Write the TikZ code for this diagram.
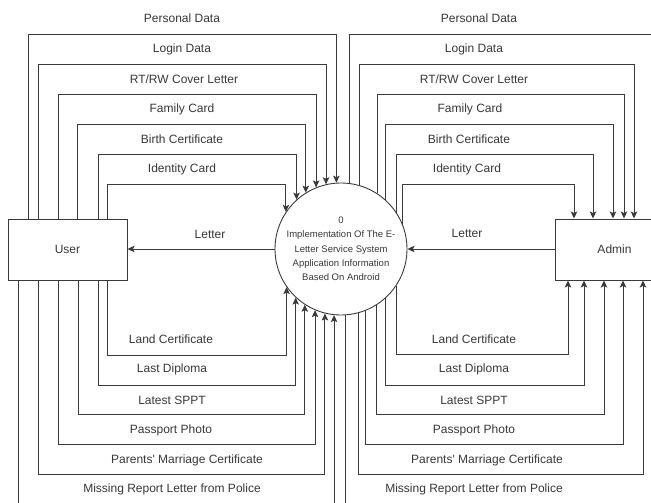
\documentclass[tikz,border=0pt]{standalone}
\usepackage{fontspec}
\setmainfont{Liberation Sans}[Ligatures=TeXOff]
\usetikzlibrary{arrows.meta}
\definecolor{linec}{HTML}{3A3A3A}
\definecolor{textc}{HTML}{383838}
\begin{document}
\begin{tikzpicture}[x=1pt,y=-1pt,
  flow/.style={draw=linec, line width=0.9pt, -{Stealth[length=7pt,width=6.5pt,inset=1.5pt]}},
  lbl/.style={font=\fontsize{12}{14}\selectfont, text=textc, inner sep=0pt},
  box/.style={draw=linec, line width=1pt, minimum width=119pt, minimum height=61pt, inner sep=0pt, font=\fontsize{12}{14}\selectfont, text=textc},
  proc/.style={circle, draw=linec, line width=0.9pt, minimum size=132pt, inner sep=0pt, align=center, font=\fontsize{9.5}{14.3}\selectfont, text=textc}]
\useasboundingbox (0,0) rectangle (651,503);
\clip (0,0) rectangle (651,503);
\fill[white] (0,0) rectangle (651,503);

\node[box] (user) at (67.5,249.5) {User};
\node[box] (admin) at (614.5,249.5) {Admin};
\node[proc] (proc) at (341,249) {0\\Implementation Of The E-\\Letter Service System\\Application Information\\Based On Android};

% User -> process (top)
\draw[flow] (user.north -| 28,0) |- (proc.94.34 |- 0,34) -- (proc.94.34);
\draw[flow] (user.north -| 38,0) |- (proc.103.14 |- 0,64) -- (proc.103.14);
\draw[flow] (user.north -| 58,0) |- (proc.112.26 |- 0,94) -- (proc.112.26);
\draw[flow] (user.north -| 77,0) |- (proc.122.02 |- 0,124) -- (proc.122.02);
\draw[flow] (user.north -| 98,0) |- (proc.132.98 |- 0,154) -- (proc.132.98);
\draw[flow] (user.north -| 107,0) |- (proc.146.44 |- 0,184) -- (proc.146.44);

% User -> process (bottom)
\draw[flow] (user.south -| 18,0) |- (proc.264.78 |- 0,510) -- (proc.264.78);
\draw[flow] (user.south -| 38,0) |- (proc.256.86 |- 0,474) -- (proc.256.86);
\draw[flow] (user.south -| 58,0) |- (proc.247.74 |- 0,444) -- (proc.247.74);
\draw[flow] (user.south -| 78,0) |- (proc.237.98 |- 0,414) -- (proc.237.98);
\draw[flow] (user.south -| 98,0) |- (proc.227.02 |- 0,385) -- (proc.227.02);
\draw[flow] (user.south -| 107,0) |- (proc.215.10 |- 0,355) -- (proc.215.10);

% process -> Admin (top)
\draw[flow] (proc.83.91) -- (proc.83.91 |- 0,34) -| (admin.north -| 660,0);
\draw[flow] (proc.74.17) -- (proc.74.17 |- 0,64) -| (admin.north -| 634,0);
\draw[flow] (proc.57.98) -- (proc.57.98 |- 0,94) -| (admin.north -| 624,0);
\draw[flow] (proc.48.19) -- (proc.48.19 |- 0,124) -| (admin.north -| 613,0);
\draw[flow] (proc.33.56) -- (proc.33.56 |- 0,154) -| (admin.north -| 593,0);
\draw[flow] (proc.22.42) -- (proc.22.42 |- 0,184) -| (admin.north -| 574,0);

% process -> Admin (bottom)
\draw[flow] (proc.274.34) -- (proc.274.34 |- 0,510) -| (admin.south -| 660,0);
\draw[flow] (proc.285.83) -- (proc.285.83 |- 0,474) -| (admin.south -| 643,0);
\draw[flow] (proc.292.26) -- (proc.292.26 |- 0,444) -| (admin.south -| 623,0);
\draw[flow] (proc.302.02) -- (proc.302.02 |- 0,414) -| (admin.south -| 604,0);
\draw[flow] (proc.312.99) -- (proc.312.99 |- 0,385) -| (admin.south -| 584,0);
\draw[flow] (proc.326.44) -- (proc.326.44 |- 0,354) -| (admin.south -| 568,0);

% Letter
\draw[flow] (proc.west) -- (proc.west -| user.east);
\draw[flow] (admin.west |- proc.east) -- (proc.east);

% labels left
\node[lbl] (lu1) at (182,18) {Personal Data};
\node[lbl] (lu2) at (182,49) {Login Data};
\node[lbl] (lu3) at (184,79) {RT/RW Cover Letter};
\node[lbl] (lu4) at (182,109) {Family Card};
\node[lbl] (lu5) at (182,139) {Birth Certificate};
\node[lbl] (lu6) at (182,169) {Identity Card};
\node[lbl] (lu7) at (210,234) {Letter};
\node[lbl] (lu8) at (171,339) {Land Certificate};
\node[lbl] (lu9) at (172,369) {Last Diploma};
\node[lbl] (lu10) at (172,400) {Latest SPPT};
\node[lbl] (lu11) at (171,430) {Passport Photo};
\node[lbl] (lu12) at (187,460) {Parents' Marriage Certificate};
\node[lbl] (lu13) at (172,489) {Missing Report Letter from Police};

% labels right
\node[lbl] (la1) at (479,18) {Personal Data};
\node[lbl] (la2) at (474,49) {Login Data};
\node[lbl] (la3) at (474,79) {RT/RW Cover Letter};
\node[lbl] (la4) at (470,109) {Family Card};
\node[lbl] (la5) at (469,139) {Birth Certificate};
\node[lbl] (la6) at (467,169) {Identity Card};
\node[lbl] (la7) at (467,233) {Letter};
\node[lbl] (la8) at (474,339) {Land Certificate};
\node[lbl] (la9) at (474,369) {Last Diploma};
\node[lbl] (la10) at (474,400) {Latest SPPT};
\node[lbl] (la11) at (474,430) {Passport Photo};
\node[lbl] (la12) at (487,460) {Parents' Marriage Certificate};
\node[lbl] (la13) at (474,489) {Missing Report Letter from Police};
\end{tikzpicture}
\end{document}
